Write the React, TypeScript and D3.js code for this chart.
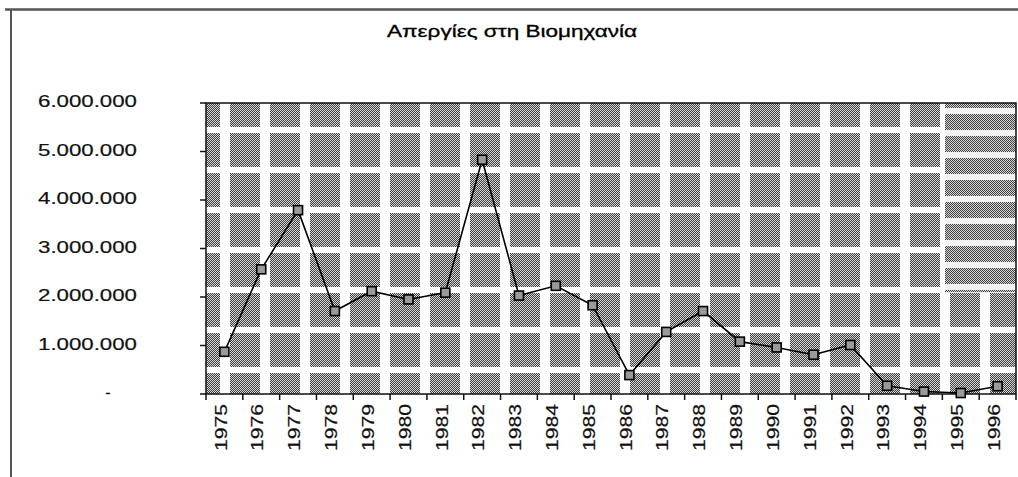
import React, { useRef, useEffect } from "react";
import * as d3 from "d3";

// data
const years = ["1975", "1976", "1977", "1978", "1979", "1980", "1981", "1982", "1983", "1984", "1985",
  "1986", "1987", "1988", "1989", "1990", "1991", "1992", "1993", "1994", "1995", "1996"];
const strikes = [870000, 2570000, 3790000, 1710000, 2120000, 1950000, 2090000, 4830000, 2030000, 2230000, 1830000,
  390000, 1280000, 1710000, 1080000, 960000, 810000, 1010000, 170000, 50000, 20000, 160000];
const yTicks = [0, 1000000, 2000000, 3000000, 4000000, 5000000, 6000000];
const title = "Απεργίες στη Βιομηχανία";

const W = 1018;
const H = 477;
const plot = { left: 206, right: 1016, top: 103, bottom: 394 };

const greek = d3.formatLocale({ decimal: ",", thousands: ".", grouping: [3], currency: ["", "€"] });
const fmt = greek.format(",d");

export default function App() {
  const svgRef = useRef<SVGSVGElement>(null);

  useEffect(() => {
    const svg = d3.select(svgRef.current);
    svg.selectAll("*").remove();

    const x = d3.scaleBand<string>().domain(years).range([plot.left, plot.right]).padding(0);
    const y = d3.scaleLinear().domain([0, 6000000]).range([plot.bottom, plot.top]);

    const defs = svg.append("defs");
    // 1px dither, like the scanned print
    const dots = defs.append("pattern").attr("id", "dots")
      .attr("width", 2).attr("height", 2).attr("patternUnits", "userSpaceOnUse");
    dots.append("rect").attr("width", 2).attr("height", 2).attr("fill", "#d6d6d6");
    dots.append("rect").attr("width", 1).attr("height", 1).attr("fill", "#404040");
    dots.append("rect").attr("x", 1).attr("y", 1).attr("width", 1).attr("height", 1).attr("fill", "#404040");

    const blocks = defs.append("pattern").attr("id", "blocks")
      .attr("x", 220).attr("y", 127)
      .attr("width", 40).attr("height", 40).attr("patternUnits", "userSpaceOnUse");
    blocks.append("rect").attr("width", 40).attr("height", 40).attr("fill", "#fff");
    blocks.append("rect").attr("x", 10).attr("y", 6).attr("width", 30).attr("height", 34).attr("fill", "url(#dots)");

    const streaks = defs.append("pattern").attr("id", "streaks")
      .attr("x", 0).attr("y", 110)
      .attr("width", 8).attr("height", 22).attr("patternUnits", "userSpaceOnUse");
    streaks.append("rect").attr("width", 8).attr("height", 22).attr("fill", "#f2f2f2");
    streaks.append("rect").attr("y", 4).attr("width", 8).attr("height", 16).attr("fill", "url(#dots)");

    // page background and outer frame
    svg.append("rect").attr("width", W).attr("height", H).attr("fill", "#fff");
    svg.append("line").attr("x1", 5).attr("x2", W).attr("y1", 9.5).attr("y2", 9.5)
      .attr("stroke", "#555").attr("stroke-width", 2.5);
    svg.append("line").attr("x1", 11).attr("x2", 11).attr("y1", 9).attr("y2", H)
      .attr("stroke", "#555").attr("stroke-width", 2);

    const font = "'Liberation Sans', Arial, sans-serif";

    // title
    svg.append("text")
      .attr("x", 512).attr("y", 33)
      .attr("text-anchor", "middle").attr("dominant-baseline", "middle")
      .attr("font-family", font)
      .attr("font-size", 16).attr("fill", "#000")
      .attr("stroke", "#000").attr("stroke-width", 0.3)
      .attr("textLength", 250).attr("lengthAdjust", "spacingAndGlyphs")
      .text(title);

    // plot area
    svg.append("rect")
      .attr("x", plot.left).attr("y", plot.top)
      .attr("width", plot.right - plot.left).attr("height", plot.bottom - plot.top)
      .attr("fill", "url(#blocks)");
    svg.append("rect")
      .attr("x", 945).attr("y", plot.top)
      .attr("width", plot.right - 945).attr("height", y(2100000) - plot.top)
      .attr("fill", "url(#streaks)");
    svg.append("rect")
      .attr("x", plot.left).attr("y", plot.top)
      .attr("width", plot.right - plot.left).attr("height", plot.bottom - plot.top)
      .attr("fill", "none").attr("stroke", "#111").attr("stroke-width", 1.5);

    // y axis
    const yAxis = svg.append("g");
    yAxis.selectAll("line").data(yTicks).join("line")
      .attr("x1", plot.left - 6).attr("x2", plot.left)
      .attr("y1", d => y(d)).attr("y2", d => y(d))
      .attr("stroke", "#111").attr("stroke-width", 1.5);
    yAxis.selectAll("text").data(yTicks).join("text")
      .attr("x", d => (d === 0 ? 108 : 137))
      .attr("y", d => y(d))
      .attr("text-anchor", d => (d === 0 ? "middle" : "end"))
      .attr("dominant-baseline", "middle")
      .attr("font-family", font)
      .attr("font-size", 16).attr("fill", "#111")
      .attr("stroke", "#111").attr("stroke-width", 0.2)
      .each(function (d) {
        if (d !== 0) d3.select(this).attr("textLength", 99).attr("lengthAdjust", "spacingAndGlyphs");
      })
      .text(d => (d === 0 ? "-" : fmt(d)));

    // x axis
    const xAxis = svg.append("g");
    const bounds = years.map(d => x(d)!).concat([plot.right]);
    xAxis.selectAll("line").data(bounds).join("line")
      .attr("x1", d => d).attr("x2", d => d)
      .attr("y1", plot.bottom).attr("y2", plot.bottom + 6)
      .attr("stroke", "#111").attr("stroke-width", 1.5);
    xAxis.selectAll("text").data(years).join("text")
      .attr("transform", d => `translate(${x(d)! + x.bandwidth() / 2 - 2},${plot.bottom + 10}) rotate(-90)`)
      .attr("text-anchor", "end").attr("dominant-baseline", "middle")
      .attr("font-family", font)
      .attr("font-size", 16).attr("fill", "#111")
      .attr("stroke", "#111").attr("stroke-width", 0.2)
      .attr("textLength", 47).attr("lengthAdjust", "spacingAndGlyphs")
      .text(d => d);

    // series
    const pts = years.map((yr, i) => [x(yr)! + x.bandwidth() / 2, y(strikes[i])] as [number, number]);
    svg.append("path")
      .attr("d", d3.line()(pts))
      .attr("fill", "none").attr("stroke", "#000").attr("stroke-width", 1.6);
    svg.append("g").selectAll("rect").data(pts).join("rect")
      .attr("x", d => d[0] - 4.5).attr("y", d => d[1] - 4.5)
      .attr("width", 9).attr("height", 9)
      .attr("fill", "#9a9a9a").attr("stroke", "#000").attr("stroke-width", 1.6);
  }, []);

  return (
    <svg ref={svgRef} width={W} height={H}
      style={{ position: "absolute", left: 0, top: 0, display: "block" }} />
  );
}
